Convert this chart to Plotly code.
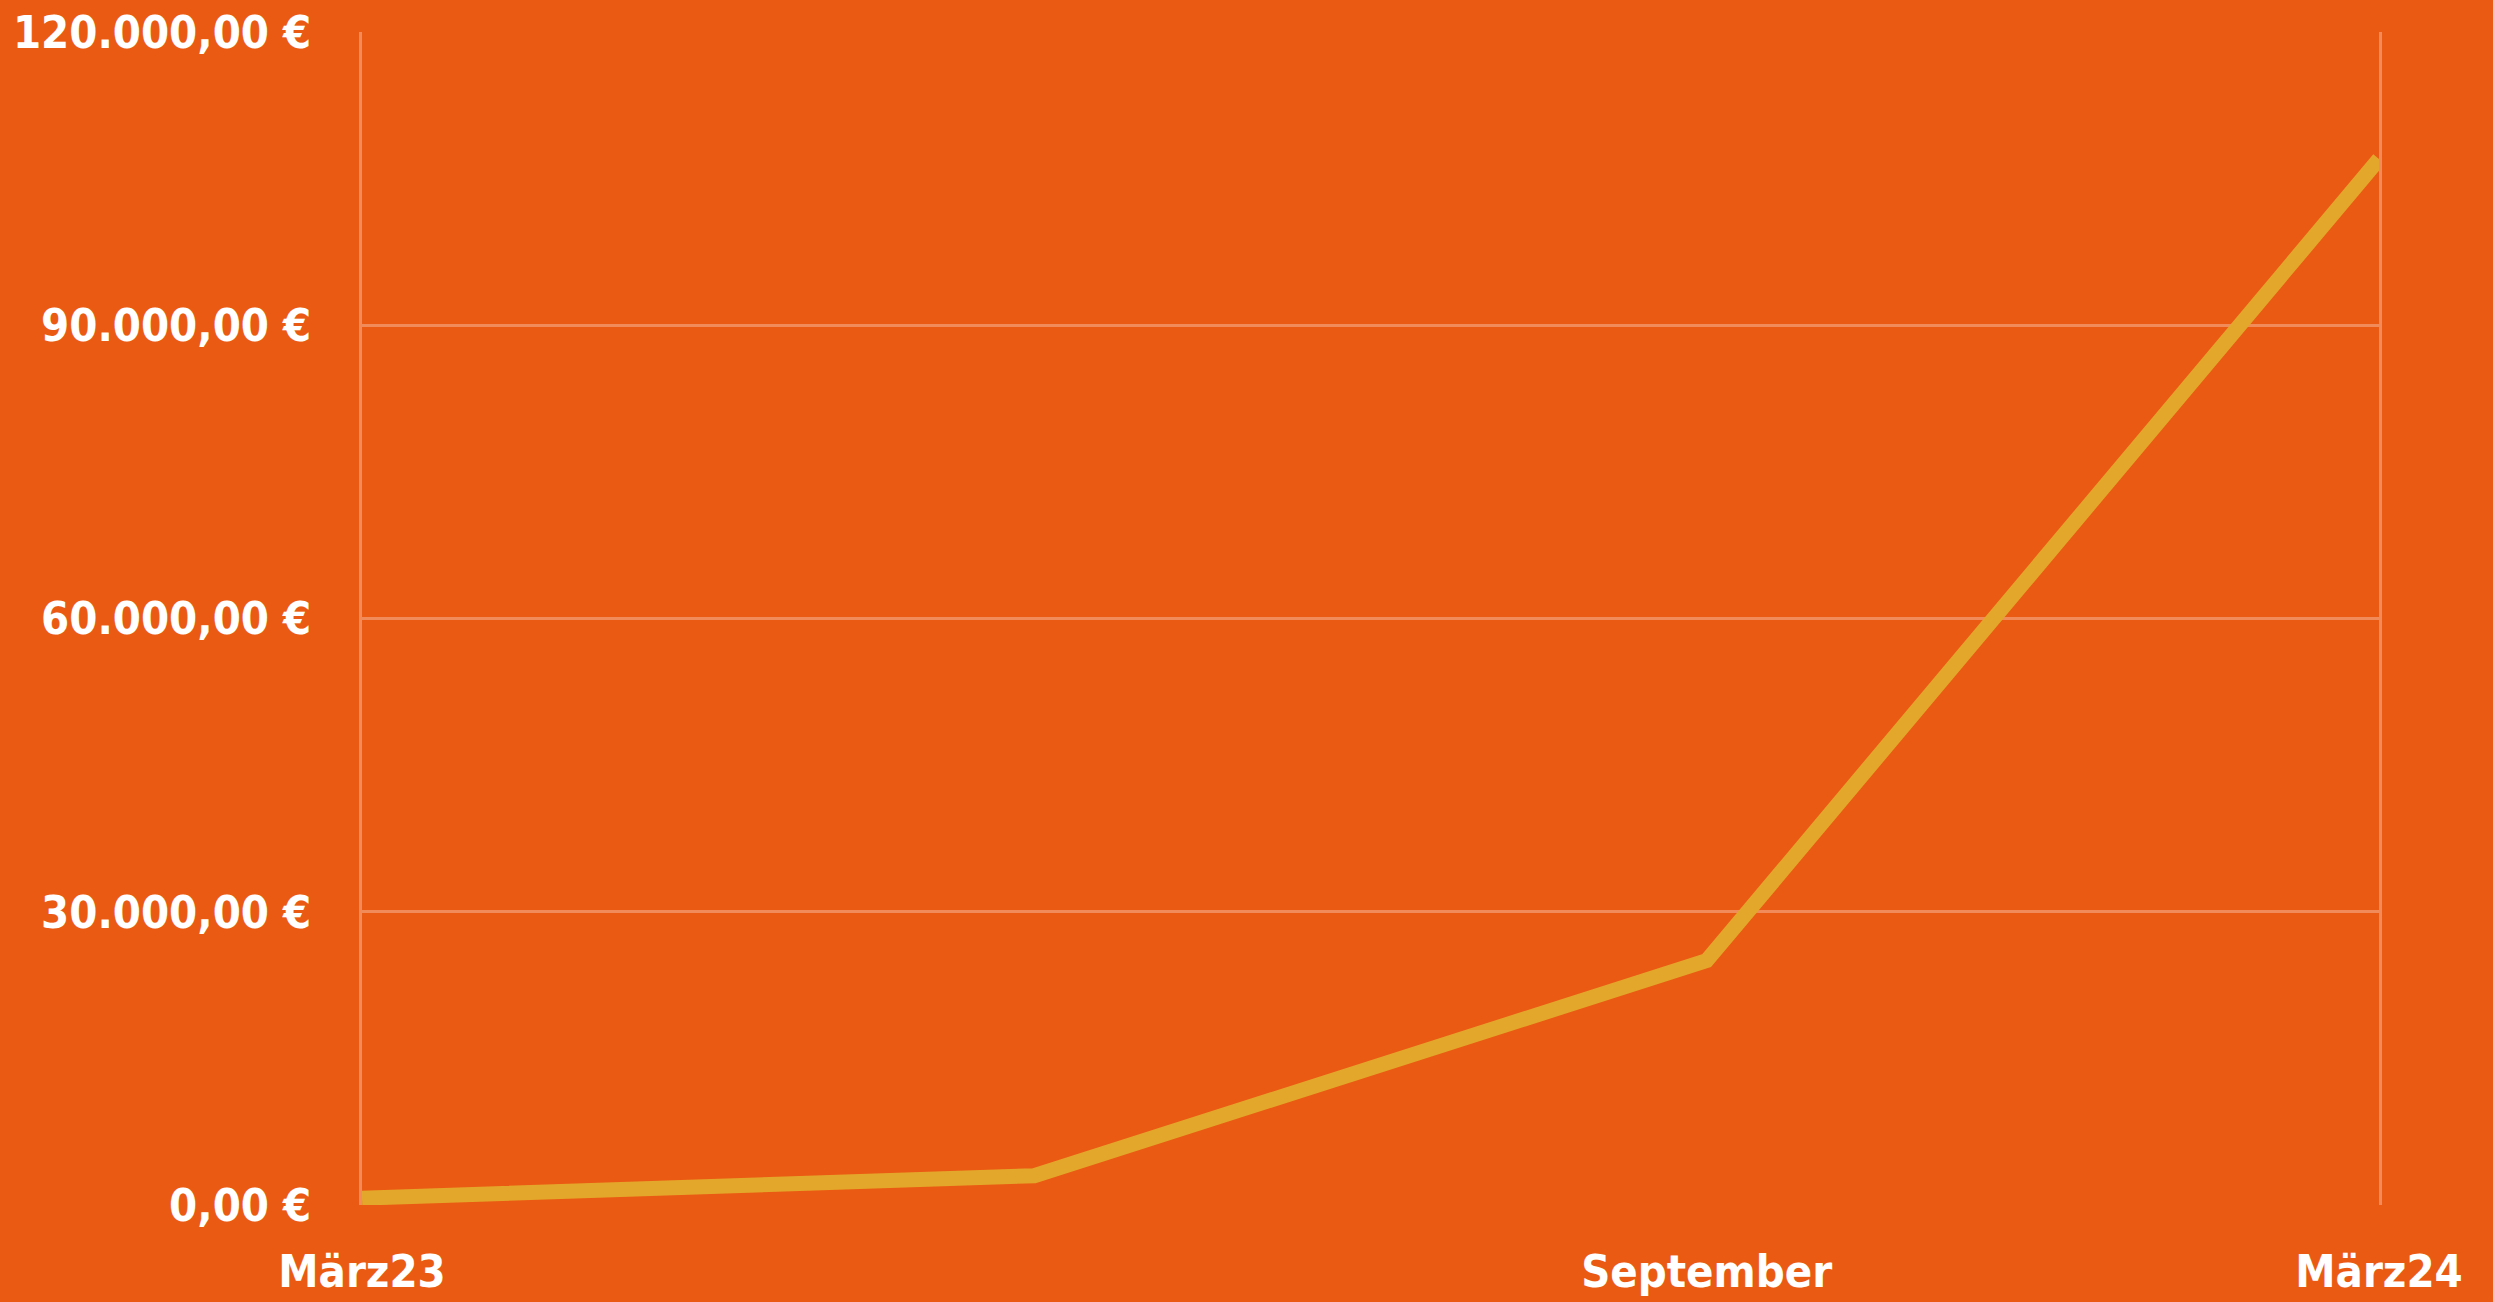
import plotly.graph_objects as go

categories = ["März23", " ", "September", "März24"]
values = [700, 3000, 25000, 107000]
y_ticks = [0, 30000, 60000, 90000, 120000]
y_tick_labels = ["0,00 €", "30.000,00 €", "60.000,00 €", "90.000,00 €", "120.000,00 €"]

BG = "#EB5A12"
LINE = "#E3A82B"
GRID = "rgba(255,255,255,0.3)"
FONT = "DejaVu Sans Condensed, Liberation Sans Narrow, Arial Narrow, sans-serif"
FSIZE = 45

fig = go.Figure()
fig.add_trace(go.Scatter(
    x=categories, y=values, mode="lines",
    line=dict(color=LINE, width=15),
    hoverinfo="skip",
))

fig.update_layout(
    width=2493, height=1302,
    margin=dict(l=362, r=114, t=32, b=97),
    paper_bgcolor=BG, plot_bgcolor=BG,
    showlegend=False,
    font=dict(family=FONT, color="white", size=FSIZE, weight="bold"),
    xaxis=dict(
        type="category", range=[0, 3], automargin=False,
        showgrid=False, zeroline=False, showline=False,
        ticks="", ticklabelstandoff=36, ticklabeloverflow="allow",
        tickfont=dict(family=FONT, size=FSIZE, color="white", weight="bold"),
    ),
    yaxis=dict(
        range=[0, 120000], tickvals=y_ticks, ticktext=y_tick_labels,
        automargin=False,
        showgrid=True, gridcolor=GRID, gridwidth=2.5,
        zeroline=False,
        showline=True, linecolor=GRID, linewidth=2.5, mirror=True,
        ticks="", ticklabelstandoff=39, ticklabeloverflow="allow",
        tickfont=dict(family=FONT, size=FSIZE, color="white", weight="bold"),
    ),
)

fig.write_html(
    "out.html",
    config={"displayModeBar": False},
    post_script="document.body.style.margin='0';document.body.style.background='%s';" % BG,
)
